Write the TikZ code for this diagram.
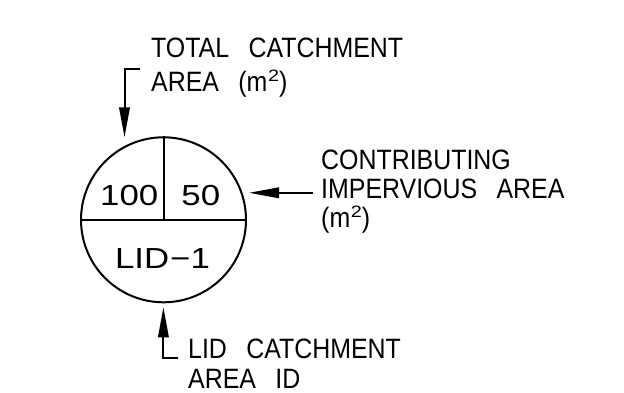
\documentclass[tikz,border=0pt]{standalone}
\usepackage{fontspec}
\setmainfont[FakeStretch=0.89, WordSpace=2.8]{Liberation Sans}
\newfontfamily\numfont[FakeStretch=1.2]{Liberation Sans}
\usetikzlibrary{arrows.meta}
\newcommand{\sqm}{(m\kern0.5pt\raisebox{10pt}{\numfont\fontsize{16.5pt}{16.5pt}\selectfont 2})}
\begin{document}
\begin{tikzpicture}[x=1pt,y=-1pt,
  lbl/.style={inner sep=0pt, anchor=base west, font=\fontsize{28pt}{28pt}\selectfont},
  inlbl/.style={inner sep=0pt, anchor=base, font=\numfont\fontsize{29pt}{29pt}\selectfont},
  ln/.style={line width=2pt},
  arr/.style={line width=2pt, -{Triangle[length=30pt,width=10.5pt]}}]
\useasboundingbox (0,0) rectangle (624,393);
% circle
\node[draw, ln, circle, minimum size=165pt, inner sep=0pt] (c) at (163.5,219.8) {};
\draw[ln] (c.west) -- (c.east);
\draw[ln] (c.north) -- (c.center);
% inner labels
\node[inlbl] (v100) at (129.2,205) {100};
\node[inlbl] (v50) at (200.8,205) {50};
\node[inlbl] (lid) at (162.5,268.3) {LID\kern1pt−1};
% top label and arrow
\node[lbl] (t1) at (151,58) {TOTAL CATCHMENT};
\node[lbl] (t2) at (151,92) {AREA \sqm};
\coordinate (ta) at (140,69.3);
\coordinate (tb) at (124.5,69.3);
\coordinate (tc) at (124.5,137.3);
\draw[arr] (ta) -- (tb) -- (tc);
% right label and arrow
\node[lbl] (r1) at (321,169) {CONTRIBUTING};
\node[lbl] (r2) at (321,198.5) {IMPERVIOUS AREA};
\node[lbl] (r3) at (321,227) {\sqm};
\coordinate (ra) at (313.3,192.8);
\coordinate (rb) at (249,192.8);
\draw[arr] (ra) -- (rb);
% bottom label and arrow
\node[lbl] (b1) at (188,358) {LID CATCHMENT};
\node[lbl] (b2) at (188,388.5) {AREA ID};
\coordinate (ba) at (178.3,358);
\coordinate (bb) at (163.4,358);
\coordinate (bc) at (163.4,307.3);
\draw[arr] (ba) -- (bb) -- (bc);
\end{tikzpicture}
\end{document}
